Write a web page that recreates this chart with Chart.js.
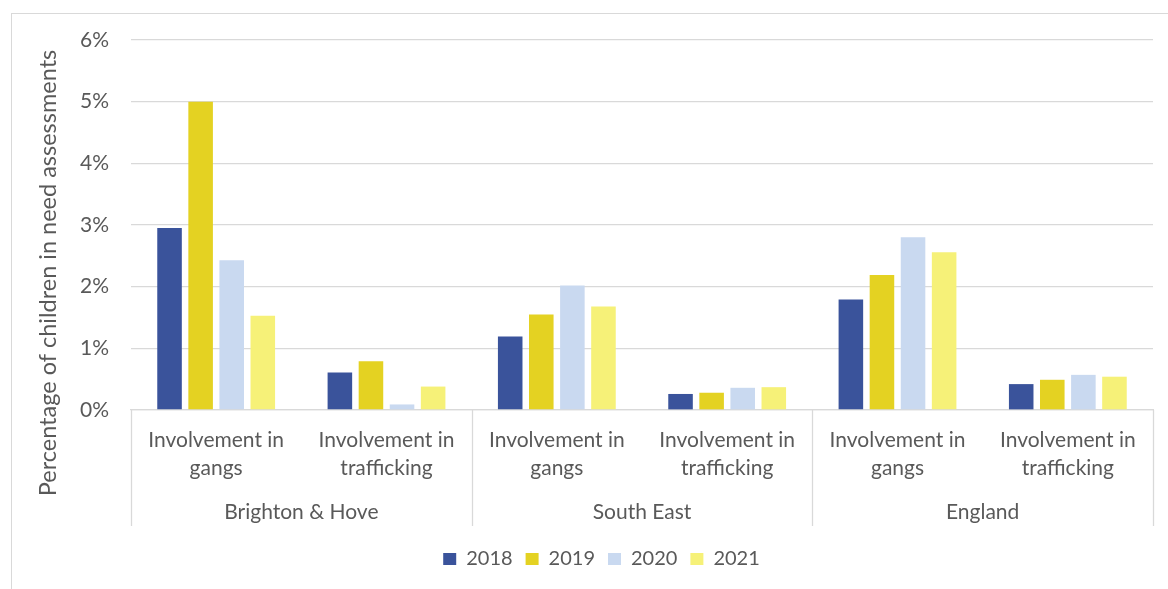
<!DOCTYPE html>
<html>
<head>
<meta charset="utf-8">
<script src="https://cdn.jsdelivr.net/npm/chart.js@4/dist/chart.umd.min.js"></script>
<style>
  html, body { margin: 0; padding: 0; background: #fff; }
  #wrap { position: relative; width: 1168px; height: 589px; overflow: hidden; }
  #frame { position: absolute; left: 11px; top: 13px; width: 1170px; height: 600px; border: 1px solid #d9d9d9; }
  #chart { position: absolute; left: 0; top: 0; }
</style>
</head>
<body>
<div id="wrap">
  <div id="frame"></div>
  <canvas id="chart" width="1168" height="589"></canvas>
</div>
<script>
"use strict";

// Grouping along the x axis: each region holds both measures
const regions = ["Brighton & Hove", "South East", "England"];
const measures = [["Involvement in", "gangs"], ["Involvement in", "trafficking"]];
const years = ["2018", "2019", "2020", "2021"];

// Percent of assessments, order: B&H gangs, B&H trafficking, SE gangs, SE trafficking, Eng gangs, Eng trafficking
const values2018 = [2.95, 0.61, 1.19, 0.26, 1.79, 0.42];
const values2019 = [5.00, 0.79, 1.55, 0.28, 2.19, 0.49];
const values2020 = [2.43, 0.09, 2.02, 0.36, 2.80, 0.57];
const values2021 = [1.53, 0.38, 1.68, 0.37, 2.56, 0.54];

const yTicks = [0, 1, 2, 3, 4, 5, 6];
const yTitle = "Percentage of children in need assessments";

const yearColors = ["#3a539b", "#e4d222", "#c9d9f0", "#f6f178"];
const textColor = "#595959";
const lineColor = "#d9d9d9";
const fontFamily = "Lato, 'Open Sans', sans-serif";

const labels = regions.flatMap(() => measures);
const series = [values2018, values2019, values2020, values2021];

// region names under the measure labels, dividers between regions, and the y title
const regionDividers = {
  id: "regionDividers",
  afterDraw(chart) {
    const { ctx, chartArea } = chart;
    const x = chart.scales.x;
    const step = x.getPixelForValue(1) - x.getPixelForValue(0);
    const per = measures.length;
    const bottom = chartArea.bottom + 116;

    ctx.save();
    ctx.strokeStyle = lineColor;
    ctx.lineWidth = 1.3;
    for (let r = 0; r <= regions.length; r++) {
      const px = Math.round(x.getPixelForValue(r * per) - step / 2) + 0.5;
      ctx.beginPath();
      ctx.moveTo(px, chartArea.bottom);
      ctx.lineTo(px, bottom);
      ctx.stroke();
    }

    ctx.fillStyle = textColor;
    ctx.font = "21px " + fontFamily;
    ctx.textAlign = "center";
    ctx.textBaseline = "middle";
    regions.forEach((name, r) => {
      const first = x.getPixelForValue(r * per);
      const last = x.getPixelForValue(r * per + per - 1);
      ctx.fillText(name, (first + last) / 2, chartArea.bottom + 102);
    });

    // title sits a little above the middle of plot plus category rows
    ctx.translate(48, (chartArea.top + bottom) / 2 - 10);
    ctx.rotate(-Math.PI / 2);
    ctx.font = "23.5px " + fontFamily;
    ctx.fillText(yTitle, 0, 0);
    ctx.restore();
  }
};

new Chart(document.getElementById("chart").getContext("2d"), {
  type: "bar",
  data: {
    labels: labels,
    datasets: years.map((year, i) => ({
      label: year,
      data: series[i],
      backgroundColor: yearColors[i],
      borderWidth: 0,
      categoryPercentage: 0.73,
      barPercentage: 0.79
    }))
  },
  options: {
    responsive: false,
    animation: false,
    layout: { padding: { left: 50, right: 15, top: 40, bottom: 10 } },
    plugins: {
      legend: {
        position: "bottom",
        labels: {
          color: textColor,
          font: { family: fontFamily, size: 20 },
          boxWidth: 13,
          boxHeight: 12,
          padding: 13
        }
      },
      tooltip: { enabled: false }
    },
    scales: {
      x: {
        grid: { display: false },
        border: { display: true, color: lineColor, width: 1.3 },
        ticks: {
          color: textColor,
          font: { family: fontFamily, size: 21, lineHeight: 1.35 },
          padding: 8,
          maxRotation: 0,
          autoSkip: false
        },
        afterFit(scale) { scale.height = 126; }
      },
      y: {
        min: 0,
        max: 6,
        afterBuildTicks(scale) { scale.ticks = yTicks.map(v => ({ value: v })); },
        grid: { color: lineColor, lineWidth: 1.3, drawTicks: false },
        border: { display: false },
        ticks: {
          color: textColor,
          font: { family: fontFamily, size: 21 },
          padding: 22,
          callback: v => v + "%"
        },
        afterFit(scale) { scale.width = 81; }
      }
    }
  },
  plugins: [regionDividers]
});
</script>
</body>
</html>
